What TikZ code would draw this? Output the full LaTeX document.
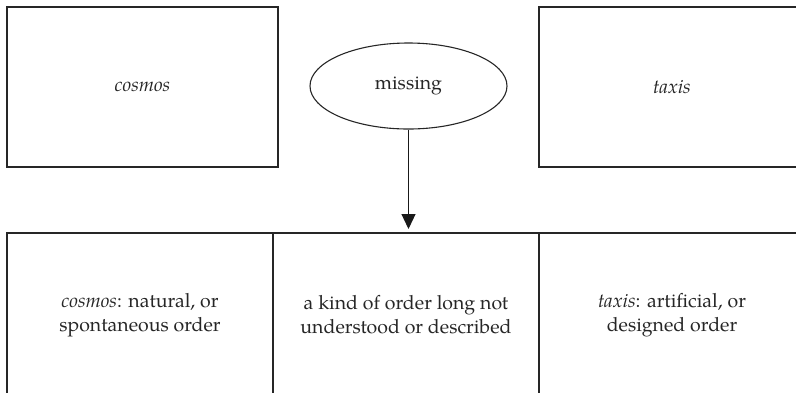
\documentclass[tikz,border=0pt]{standalone}
\usepackage{fontspec}
\setmainfont{TeX Gyre Pagella}
\usetikzlibrary{shapes.geometric,arrows.meta}
\begin{document}
\begin{tikzpicture}[x=1pt,y=-1pt,
  every node/.style={font=\fontsize{19.5}{24}\selectfont, text=black!85},
  boxs/.style={draw=black!85, line width=1.3pt, rectangle, minimum height=160pt, inner sep=0pt, outer sep=0pt, align=center},
  oval/.style={draw=black!85, line width=1.1pt, ellipse, minimum width=197pt, minimum height=86pt, inner sep=0pt},
  link/.style={draw=black!90, line width=1.2pt, -{Triangle[width=14pt,length=15pt]}, shorten >=4pt}]
\useasboundingbox (0,0) rectangle (796,392);
\clip (0,0) rectangle (796,392);
\node[boxs, minimum width=271pt] (cosT) at (142.5,87) {\textit{cosmos}};
\node[oval] (miss) at (408.5,86) {missing};
\node[boxs, minimum width=266pt] (taxT) at (672,87) {\textit{taxis}};
\node[boxs, minimum width=266pt, minimum height=164pt] (cosB) at (140,315) {\textit{cosmos}: natural, or\\spontaneous order};
\node[boxs, minimum width=266pt, minimum height=164pt] (midB) at (406,315) {a kind of order long not\\understood or described};
\node[boxs, minimum width=266pt, minimum height=164pt] (taxB) at (672,315) {\textit{taxis}: artificial, or\\designed order};
\draw[link] (miss.south) -- (miss.south |- midB.north);
\end{tikzpicture}
\end{document}
